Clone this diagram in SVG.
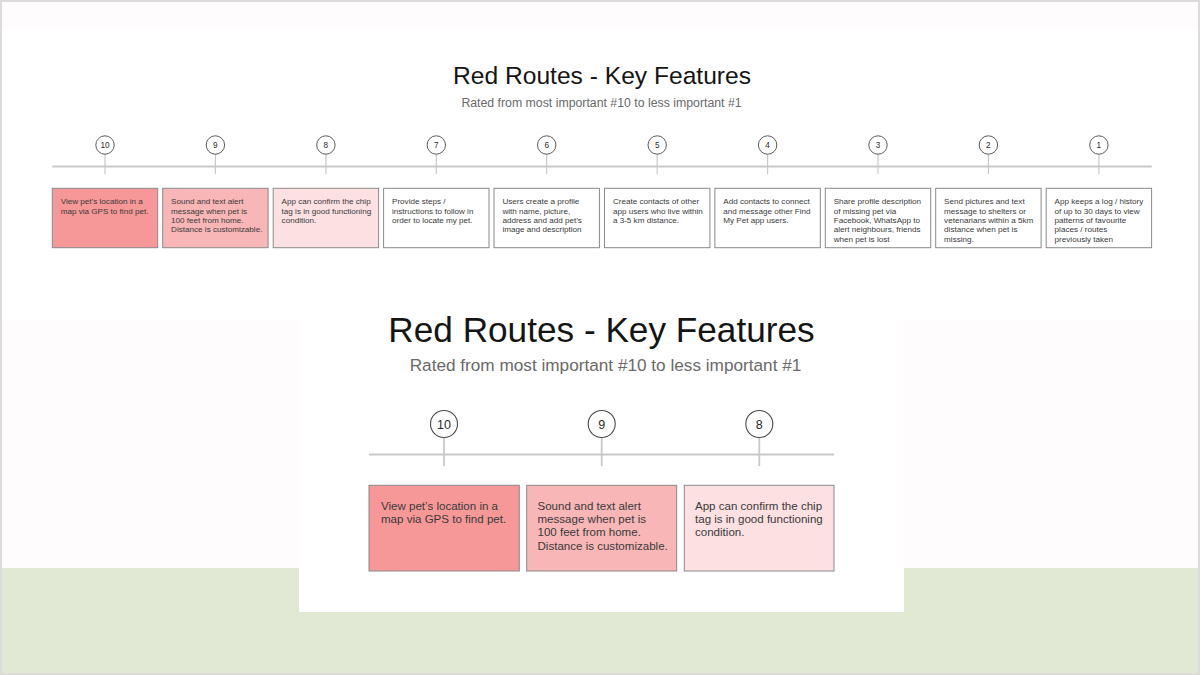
<svg xmlns="http://www.w3.org/2000/svg" width="1200" height="675" viewBox="0 0 1200 675">
  <style>
    .title { font-family: "Liberation Sans", Arial, sans-serif; fill: #151515; text-anchor: middle; }
    .sub { font-family: "Liberation Sans", Arial, sans-serif; fill: #6a6a6a; text-anchor: middle; }
    .num { font-family: "Liberation Sans", Arial, sans-serif; fill: #2a2a2a; text-anchor: middle; }
    .txt { font-family: "Liberation Sans", Arial, sans-serif; fill: #3a3a3a; }
    .s .txt { font-size: 8.1px; }
    .s .num { font-size: 8.2px; }
    .l .txt { font-size: 11.55px; }
    .l .num { font-size: 12.5px; }
    .box { stroke: #8a8a8a; stroke-width: 1; }
    .c { fill: #ffffff; stroke: #4a4a4a; }
    .s .c { stroke-width: 0.9; }
    .l .c { stroke-width: 1.1; }
    .axis { stroke: #c9c9c9; fill: none; }
    .p10 { fill: #f69798; }
    .p9 { fill: #f8b6b7; }
    .p8 { fill: #fde0e2; }
    .p0 { fill: #ffffff; }
  </style>

  <!-- page background -->
  <rect x="0" y="0" width="1200" height="675" fill="#dcdcdc"/>
  <rect x="2" y="2" width="1196" height="671" fill="#fffcfd"/>
  <rect x="2" y="568" width="1196" height="105" fill="#e1e8d4"/>
  <rect x="2" y="29" width="1196" height="291" fill="#ffffff"/>
  <rect x="299" y="290" width="605" height="322" fill="#ffffff"/>

  <!-- full ranking strip -->
  <g id="strip" class="s">
    <text class="title" x="602" y="84.3" font-size="24.6">Red Routes - Key Features</text>
    <text class="sub" x="601.5" y="106.7" font-size="12.3">Rated from most important #10 to less important #1</text>

    <g id="strip-connectors">
      <line class="axis" x1="52.3" y1="166.5" x2="1151.7" y2="166.5" stroke-width="2.2"/>
      <g class="axis" stroke-width="1.2">
        <line x1="105" y1="154" x2="105" y2="174"/>
        <line x1="215.4" y1="154" x2="215.4" y2="174"/>
        <line x1="325.9" y1="154" x2="325.9" y2="174"/>
        <line x1="436.3" y1="154" x2="436.3" y2="174"/>
        <line x1="546.7" y1="154" x2="546.7" y2="174"/>
        <line x1="657.2" y1="154" x2="657.2" y2="174"/>
        <line x1="767.6" y1="154" x2="767.6" y2="174"/>
        <line x1="878" y1="154" x2="878" y2="174"/>
        <line x1="988.4" y1="154" x2="988.4" y2="174"/>
        <line x1="1098.9" y1="154" x2="1098.9" y2="174"/>
      </g>
    </g>

    <g id="s10">
      <circle class="c" cx="105" cy="145" r="9.2"/>
      <text class="num" x="105" y="148">10</text>
      <rect class="box p10" x="52.3" y="188.3" width="105.4" height="59.4"/>
      <text class="txt" x="60.7" y="204.3">View pet’s location in a<tspan x="60.7" dy="9.35">map via GPS to find pet.</tspan></text>
    </g>
    <g id="s9">
      <circle class="c" cx="215.4" cy="145" r="9.2"/>
      <text class="num" x="215.4" y="148">9</text>
      <rect class="box p9" x="162.7" y="188.3" width="105.4" height="59.4"/>
      <text class="txt" x="171.1" y="204.3">Sound and text alert<tspan x="171.1" dy="9.35">message when pet is</tspan><tspan x="171.1" dy="9.35">100 feet from home.</tspan><tspan x="171.1" dy="9.35">Distance is customizable.</tspan></text>
    </g>
    <g id="s8">
      <circle class="c" cx="325.9" cy="145" r="9.2"/>
      <text class="num" x="325.9" y="148">8</text>
      <rect class="box p8" x="273.2" y="188.3" width="105.4" height="59.4"/>
      <text class="txt" x="281.6" y="204.3">App can confirm the chip<tspan x="281.6" dy="9.35">tag is in good functioning</tspan><tspan x="281.6" dy="9.35">condition.</tspan></text>
    </g>
    <g id="s7">
      <circle class="c" cx="436.3" cy="145" r="9.2"/>
      <text class="num" x="436.3" y="148">7</text>
      <rect class="box p0" x="383.6" y="188.3" width="105.4" height="59.4"/>
      <text class="txt" x="392" y="204.3">Provide steps /<tspan x="392" dy="9.35">instructions to follow in</tspan><tspan x="392" dy="9.35">order to locate my pet.</tspan></text>
    </g>
    <g id="s6">
      <circle class="c" cx="546.7" cy="145" r="9.2"/>
      <text class="num" x="546.7" y="148">6</text>
      <rect class="box p0" x="494" y="188.3" width="105.4" height="59.4"/>
      <text class="txt" x="502.4" y="204.3">Users create a profile<tspan x="502.4" dy="9.35">with name, picture,</tspan><tspan x="502.4" dy="9.35">address and add pet’s</tspan><tspan x="502.4" dy="9.35">image and description</tspan></text>
    </g>
    <g id="s5">
      <circle class="c" cx="657.2" cy="145" r="9.2"/>
      <text class="num" x="657.2" y="148">5</text>
      <rect class="box p0" x="604.5" y="188.3" width="105.4" height="59.4"/>
      <text class="txt" x="612.9" y="204.3">Create contacts of other<tspan x="612.9" dy="9.35">app users who live within</tspan><tspan x="612.9" dy="9.35">a 3-5 km distance.</tspan></text>
    </g>
    <g id="s4">
      <circle class="c" cx="767.6" cy="145" r="9.2"/>
      <text class="num" x="767.6" y="148">4</text>
      <rect class="box p0" x="714.9" y="188.3" width="105.4" height="59.4"/>
      <text class="txt" x="723.3" y="204.3">Add contacts to connect<tspan x="723.3" dy="9.35">and message other Find</tspan><tspan x="723.3" dy="9.35">My Pet app users.</tspan></text>
    </g>
    <g id="s3">
      <circle class="c" cx="878" cy="145" r="9.2"/>
      <text class="num" x="878" y="148">3</text>
      <rect class="box p0" x="825.3" y="188.3" width="105.4" height="59.4"/>
      <text class="txt" x="833.7" y="204.3">Share profile description<tspan x="833.7" dy="9.35">of missing pet via</tspan><tspan x="833.7" dy="9.35">Facebook, WhatsApp to</tspan><tspan x="833.7" dy="9.35">alert neighbours, friends</tspan><tspan x="833.7" dy="9.35">when pet is lost</tspan></text>
    </g>
    <g id="s2">
      <circle class="c" cx="988.4" cy="145" r="9.2"/>
      <text class="num" x="988.4" y="148">2</text>
      <rect class="box p0" x="935.7" y="188.3" width="105.4" height="59.4"/>
      <text class="txt" x="944.1" y="204.3">Send pictures and text<tspan x="944.1" dy="9.35">message to shelters or</tspan><tspan x="944.1" dy="9.35">vetenarians within a 5km</tspan><tspan x="944.1" dy="9.35">distance when pet is</tspan><tspan x="944.1" dy="9.35">missing.</tspan></text>
    </g>
    <g id="s1">
      <circle class="c" cx="1098.9" cy="145" r="9.2"/>
      <text class="num" x="1098.9" y="148">1</text>
      <rect class="box p0" x="1046.2" y="188.3" width="105.4" height="59.4"/>
      <text class="txt" x="1054.6" y="204.3">App keeps a log / history<tspan x="1054.6" dy="9.35">of up to 30 days to view</tspan><tspan x="1054.6" dy="9.35">patterns of favourite</tspan><tspan x="1054.6" dy="9.35">places / routes</tspan><tspan x="1054.6" dy="9.35">previously taken</tspan></text>
    </g>
  </g>

  <!-- enlarged top three -->
  <g id="top3" class="l">
    <text class="title" x="601.5" y="341.5" font-size="35.2">Red Routes - Key Features</text>
    <text class="sub" x="605.5" y="371" font-size="17.2">Rated from most important #10 to less important #1</text>

    <g id="top3-connectors">
      <line class="axis" x1="369" y1="454.5" x2="834" y2="454.5" stroke-width="2"/>
      <g class="axis" stroke-width="1.8">
        <line x1="444" y1="438" x2="444" y2="466"/>
        <line x1="601.7" y1="438" x2="601.7" y2="466"/>
        <line x1="759.3" y1="438" x2="759.3" y2="466"/>
      </g>
    </g>

    <g id="l10">
      <circle class="c" cx="444" cy="424" r="13.5"/>
      <text class="num" x="444" y="428.5">10</text>
      <rect class="box p10" x="369" y="485.3" width="150.3" height="85.7"/>
      <text class="txt" x="381" y="509.7">View pet’s location in a<tspan x="381" dy="13.35">map via GPS to find pet.</tspan></text>
    </g>
    <g id="l9">
      <circle class="c" cx="601.7" cy="424" r="13.5"/>
      <text class="num" x="601.7" y="428.5">9</text>
      <rect class="box p9" x="526.7" y="485.3" width="150" height="85.7"/>
      <text class="txt" x="537.5" y="509.7">Sound and text alert<tspan x="537.5" dy="13.35">message when pet is</tspan><tspan x="537.5" dy="13.35">100 feet from home.</tspan><tspan x="537.5" dy="13.35">Distance is customizable.</tspan></text>
    </g>
    <g id="l8">
      <circle class="c" cx="759.3" cy="424" r="13.5"/>
      <text class="num" x="759.3" y="428.5">8</text>
      <rect class="box p8" x="684.3" y="485.3" width="149.7" height="85.7"/>
      <text class="txt" x="695" y="509.7">App can confirm the chip<tspan x="695" dy="13.35">tag is in good functioning</tspan><tspan x="695" dy="13.35">condition.</tspan></text>
    </g>
  </g>
</svg>
